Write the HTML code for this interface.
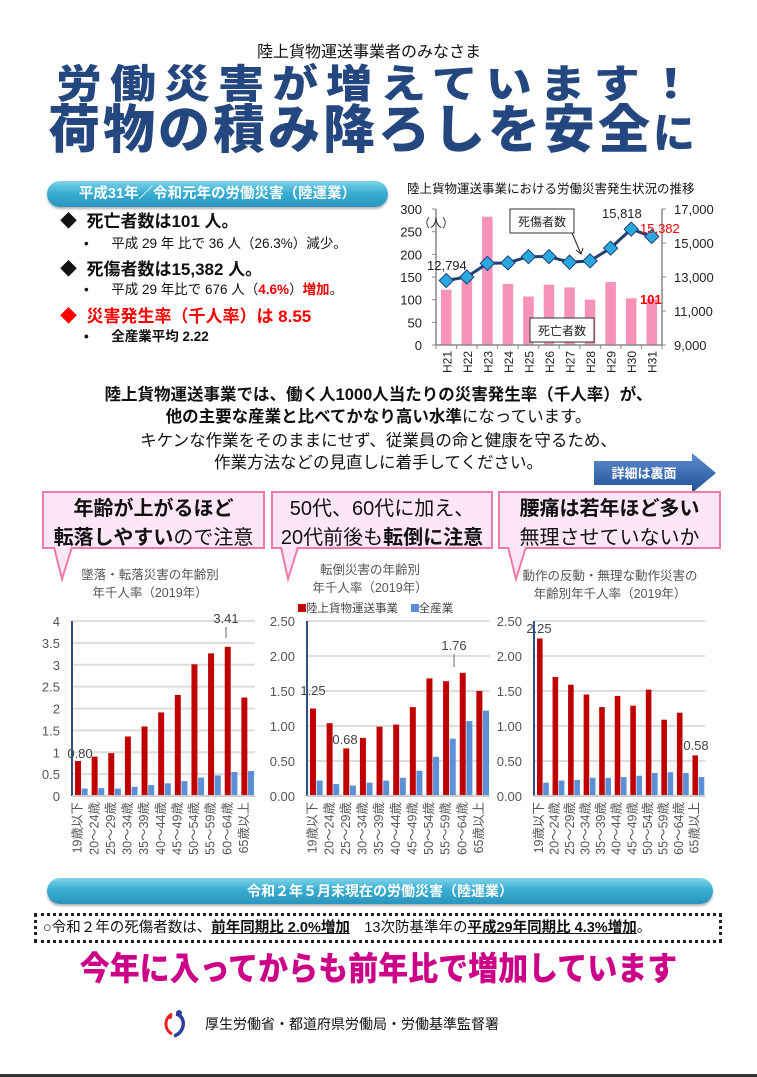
<!DOCTYPE html>
<html><head><meta charset="utf-8">
<style>
*{margin:0;padding:0;box-sizing:border-box}
body{width:757px;height:1077px;background:#fff;position:relative;overflow:hidden;font-family:"Liberation Sans","Noto Sans CJK JP",sans-serif;color:#111}
.a{position:absolute;white-space:nowrap}
.pill{position:absolute;border-radius:14px;background:linear-gradient(#7fd3ea,#3aaed2 45%,#2a95bd);color:#fff;font-weight:bold;text-align:center;box-shadow:0 2px 2px rgba(0,0,0,.3)}
.box{position:absolute;background:#fde6f7;border:2px solid #f07aa8;text-align:center;font-size:20px;line-height:29px;padding-top:2px}
.ct{position:absolute;color:#555;font-size:12.5px;line-height:18px;text-align:center;white-space:nowrap}
</style></head><body>
<div class="a" style="left:257px;top:38px;font-size:16px">陸上貨物運送事業者のみなさま</div>
<div class="a" style="left:56px;top:62px;font-size:46px;font-weight:900;color:#24477f;letter-spacing:8px;line-height:52px;transform:scaleY(0.86);transform-origin:left top">労働災害が増えています！</div>
<div class="a" style="left:48px;top:102px;font-size:52px;font-weight:900;color:#24477f;letter-spacing:3px;line-height:58px">荷物の積み降ろしを安全<span style="font-size:42px">に</span></div>

<div class="pill" style="left:47px;top:181px;width:341px;height:26px;font-size:14.5px;line-height:26px">平成31年／令和元年の労働災害（陸運業）</div>
<div class="a" style="left:60px;top:211px;font-size:17px;font-weight:bold;line-height:22px">◆&nbsp;&nbsp;死亡者数は101 人。</div>
<div class="a" style="left:84px;top:235px;font-size:13.5px;line-height:18px">•&nbsp;&nbsp;&nbsp;&nbsp;&nbsp;&nbsp;平成 29 年 比で 36 人（26.3%）減少。</div>
<div class="a" style="left:60px;top:259px;font-size:17px;font-weight:bold;line-height:22px">◆&nbsp;&nbsp;死傷者数は15,382 人。</div>
<div class="a" style="left:84px;top:281px;font-size:13.5px;line-height:18px">•&nbsp;&nbsp;&nbsp;&nbsp;&nbsp;&nbsp;平成 29 年比で 676 人（<span style="color:#e00;font-weight:bold">4.6%</span>）<span style="color:#e00;font-weight:bold">増加</span>。</div>
<div class="a" style="left:60px;top:306px;font-size:17px;font-weight:bold;line-height:22px;color:#f00">◆&nbsp;&nbsp;災害発生率（千人率）は 8.55</div>
<div class="a" style="left:84px;top:328px;font-size:13.5px;line-height:18px;font-weight:bold">•&nbsp;&nbsp;&nbsp;&nbsp;&nbsp;&nbsp;全産業平均 2.22</div>

<div class="a" style="left:407px;top:178px;font-size:12.5px">陸上貨物運送事業における労働災害発生状況の推移</div>
<svg class="a" style="left:400px;top:195px" width="357" height="185" id="top"></svg>

<div class="a" style="left:0;width:757px;text-align:center;top:384px;font-size:16.5px;font-weight:bold;line-height:22px">陸上貨物運送事業では、働く人1000人当たりの災害発生率（千人率）が、</div>
<div class="a" style="left:0;width:757px;text-align:center;top:406px;font-size:16.5px;line-height:22px"><b>他の主要な産業と比べてかなり高い水準</b>になっています。</div>
<div class="a" style="left:0;width:757px;text-align:center;top:430px;font-size:16.5px;line-height:22px">キケンな作業をそのままにせず、従業員の命と健康を守るため、</div>
<div class="a" style="left:0;width:757px;text-align:center;top:452px;font-size:16.5px;line-height:22px">作業方法などの見直しに着手してください。</div>

<svg class="a" style="left:594px;top:453px" width="126" height="40"><defs><linearGradient id="bg" x1="0" y1="0" x2="0" y2="1"><stop offset="0" stop-color="#5e8fd0"/><stop offset="1" stop-color="#1f4f96"/></linearGradient></defs><path d="M0 8 H98 V0 L122 20 L98 40 V32 H0 Z" fill="url(#bg)"/><text x="50" y="25" fill="#fff" font-size="13" font-weight="bold" text-anchor="middle" font-family="Liberation Sans,Noto Sans CJK JP,sans-serif">詳細は裏面</text></svg>

<div class="box" style="left:42px;top:491px;width:223px;height:58px"><b>年齢が上がるほど</b><br><b>転落しやすい</b>ので注意</div>
<div class="box" style="left:271px;top:491px;width:222px;height:58px">50代、60代に加え、<br>20代前後も<b>転倒に注意</b></div>
<div class="box" style="left:498px;top:491px;width:223px;height:58px"><b>腰痛は若年ほど多い</b><br>無理させていないか</div>
<svg class="a" style="left:40px;top:547px" width="700" height="40"><path d="M14 0 L22 32 L32 0" fill="#fde6f7" stroke="#f07aa8" stroke-width="2"/><path d="M241 0 L248 32 L258 0" fill="#fde6f7" stroke="#f07aa8" stroke-width="2"/><path d="M468 0 L476 32 L486 0" fill="#fde6f7" stroke="#f07aa8" stroke-width="2"/></svg>

<div class="ct" style="left:70px;top:566px;width:160px">墜落・転落災害の年齢別<br>年千人率（2019年）</div>
<div class="ct" style="left:290px;top:561px;width:160px">転倒災害の年齢別<br>年千人率（2019年）</div>
<div class="ct" style="left:500px;top:567px;width:220px">動作の反動・無理な動作災害の<br>年齢別年千人率（2019年）</div>
<div class="a" style="left:298px;top:600px;font-size:11.5px;color:#444"><span style="display:inline-block;width:8px;height:8px;background:#c00000"></span>陸上貨物運送事業&nbsp;&nbsp;&nbsp;&nbsp;<span style="display:inline-block;width:8px;height:8px;background:#5b8fd6"></span>全産業</div>
<svg class="a" style="left:0;top:600px" width="757" height="270" id="bot"></svg>

<div class="pill" style="left:47px;top:878px;width:666px;height:26px;font-size:14px;line-height:26px">令和２年５月末現在の労働災害（陸運業）</div>
<div class="a" style="left:34px;top:913px;width:688px;height:30px;border:3px dotted #222;font-size:14.5px;line-height:24px;padding-left:6px">○令和２年の死傷者数は、<b><u>前年同期比 2.0%増加</u></b>　13次防基準年の<b><u>平成29年同期比 4.3%増加</u></b>。</div>
<div class="a" style="left:0;width:757px;text-align:center;top:950px;font-size:30px;font-weight:900;color:#cc0088;line-height:40px;transform:scaleY(1.1)">今年に入ってからも前年比で増加しています</div>
<svg class="a" style="left:160px;top:1008px" width="30" height="30"><path d="M12 6 C4 10 4 22 12 26" stroke="#e22" stroke-width="3" fill="none"/><path d="M16 6 C26 8 26 24 14 28" stroke="#2b3f9a" stroke-width="3.5" fill="none"/><circle cx="19" cy="5" r="3" fill="#2b3f9a"/><circle cx="10" cy="9" r="2" fill="#e22"/></svg>
<div class="a" style="left:205px;top:1014px;font-size:14px">厚生労働省・都道府県労働局・労働基準監督署</div>
<div class="a" style="left:0;top:1074px;width:757px;height:3px;background:#333"></div>

<script>
var NS="http://www.w3.org/2000/svg";
function el(svg,t,a,txt){var e=document.createElementNS(NS,t);for(var k in a)e.setAttribute(k,a[k]);if(txt!=null)e.textContent=txt;svg.appendChild(e);return e;}
var F="Liberation Sans, Noto Sans CJK JP, sans-serif";
var s=document.getElementById("top");
var L=36,R=262,T=14,B=150,n=11,w=(R-L)/n;
var bars=[122,148,283,135,107,133,127,100,139,103,101];
var line=[12794,13000,13800,13830,14200,14200,13870,13950,14700,15818,15382];
for(var i=0;i<n;i++){var h=bars[i]/300*(B-T);el(s,"rect",{x:L+i*w+5,y:B-h,width:w-10,height:h,fill:"#f793b8"});}
el(s,"line",{x1:L,y1:T,x2:L,y2:B,stroke:"#888","stroke-width":1.5});
el(s,"line",{x1:R,y1:T,x2:R,y2:B,stroke:"#888","stroke-width":1.5});
el(s,"line",{x1:L,y1:B,x2:R,y2:B,stroke:"#888","stroke-width":1.5});
for(var v=0;v<=300;v+=50){var y=B-v/300*(B-T);el(s,"line",{x1:L-4,y1:y,x2:L,y2:y,stroke:"#888"});el(s,"text",{x:L-14,y:y+5,"text-anchor":"end","font-size":13,"font-family":F,fill:"#222"},v);}
for(var v=9000;v<=17000;v+=2000){var y=B-(v-9000)/8000*(B-T);el(s,"line",{x1:R,y1:y,x2:R+4,y2:y,stroke:"#888"});el(s,"text",{x:R+12,y:y+5,"font-size":13,"font-family":F,fill:"#222"},v.toLocaleString("en-US"));}
for(var i=0;i<=n;i++){el(s,"line",{x1:L+i*w,y1:B,x2:L+i*w,y2:B+4,stroke:"#888"});}
for(var i=0;i<n;i++){var x=L+i*w+w/2+5;el(s,"text",{x:0,y:0,transform:"translate("+x+","+(B+6)+") rotate(-90)","text-anchor":"end","font-size":12,"font-family":F,fill:"#222"},"H"+(21+i));}
el(s,"text",{x:L-18,y:T+18,"font-size":12,"font-family":F,fill:"#222"},"（人）");
var pts=line.map(function(v,i){return [L+i*w+w/2,B-(v-9000)/8000*(B-T)];});
el(s,"polyline",{points:pts.map(function(p){return p.join(",")}).join(" "),fill:"none",stroke:"#1f3f73","stroke-width":3});
pts.forEach(function(p){el(s,"rect",{x:p[0]-5,y:p[1]-5,width:10,height:10,fill:"#29a8e0",stroke:"#1f3f73","stroke-width":1,transform:"rotate(45 "+p[0]+" "+p[1]+")"});});
el(s,"text",{x:27,y:75,"font-size":13,"font-family":F,fill:"#222"},"12,794");
el(s,"text",{x:202,y:23,"font-size":13,"font-family":F,fill:"#222"},"15,818");
el(s,"text",{x:240,y:38,"font-size":13,"font-family":F,fill:"#f00"},"15,382");
el(s,"text",{x:240,y:109,"font-size":13,"font-family":F,fill:"#f00","font-weight":"bold"},"101");
el(s,"rect",{x:110,y:14,width:64,height:24,fill:"#fff",stroke:"#333"});
el(s,"text",{x:142,y:31,"text-anchor":"middle","font-size":12,"font-family":F,fill:"#222"},"死傷者数");
el(s,"path",{d:"M172 38 L181 59 M176 55 L181 59 L183 53",fill:"none",stroke:"#222"});
el(s,"rect",{x:130,y:123,width:64,height:24,fill:"#fff",stroke:"#333"});
el(s,"text",{x:162,y:140,"text-anchor":"middle","font-size":12,"font-family":F,fill:"#222"},"死亡者数");

var b=document.getElementById("bot");
var cats=["19歳以下","20～24歳","25～29歳","30～34歳","35～39歳","40～44歳","45～49歳","50～54歳","55～59歳","60～64歳","65歳以上"];
function fmt(v,dec){if(dec==null){return String(Math.round(v*10)/10);}return v.toFixed(dec);}
function chart(ax,rx,max,step,dec,red,blue,labels){
 var T=21,B=196;
 for(var k=0;k*step<=max+1e-9;k++){var v=k*step;var y=B-v/max*(B-T);el(b,"line",{x1:ax,y1:y,x2:rx,y2:y,stroke:"#ddd","stroke-width":2});el(b,"text",{x:ax-12,y:y+5,"text-anchor":"end","font-size":13,"font-family":F,fill:"#555"},fmt(v,dec));}
 var w=(rx-ax)/11;
 for(var i=0;i<11;i++){var x=ax+i*w;var h=red[i]/max*(B-T);el(b,"rect",{x:x+3,y:B-h,width:w*0.36,height:h,fill:"#c00000"});var h2=blue[i]/max*(B-T);el(b,"rect",{x:x+3+w*0.4,y:B-h2,width:w*0.36,height:h2,fill:"#5b8fd6"});
  el(b,"text",{x:0,y:0,transform:"translate("+(x+w*0.58)+","+(B+6)+") rotate(-90)","text-anchor":"end","font-size":12.5,"font-family":F,fill:"#555"},cats[i]);}
 el(b,"line",{x1:ax,y1:T,x2:ax,y2:B,stroke:"#2f4f80","stroke-width":2});
 el(b,"line",{x1:ax,y1:B,x2:rx,y2:B,stroke:"#ccc","stroke-width":2});
 labels.forEach(function(l){el(b,"text",{x:l[0],y:l[1],"font-size":13,"font-family":F,fill:"#444","text-anchor":"middle"},l[2]);if(l[3])el(b,"line",{x1:l[3],y1:l[1]+4,x2:l[3],y2:l[4],stroke:"#999","stroke-width":1.5});});
}
chart(72,255,4,0.5,null,[0.80,0.90,0.98,1.36,1.59,1.91,2.31,3.01,3.26,3.41,2.25],[0.17,0.18,0.17,0.21,0.25,0.29,0.34,0.42,0.47,0.55,0.57],[[80,158,"0.80"],[226,23,"3.41",226,38]]);
chart(307,490,2.5,0.5,2,[1.25,1.04,0.68,0.83,0.99,1.02,1.27,1.68,1.64,1.76,1.50],[0.22,0.17,0.15,0.19,0.22,0.26,0.36,0.56,0.82,1.07,1.22],[[313,95,"1.25"],[345,144,"0.68"],[454,50,"1.76",454,67]]);
chart(534,705,2.5,0.5,2,[2.25,1.70,1.59,1.45,1.27,1.43,1.29,1.52,1.09,1.19,0.58],[0.19,0.22,0.23,0.26,0.26,0.27,0.29,0.33,0.34,0.33,0.27],[[539,33,"2.25"],[696,150,"0.58"]]);
</script>
</body></html>
